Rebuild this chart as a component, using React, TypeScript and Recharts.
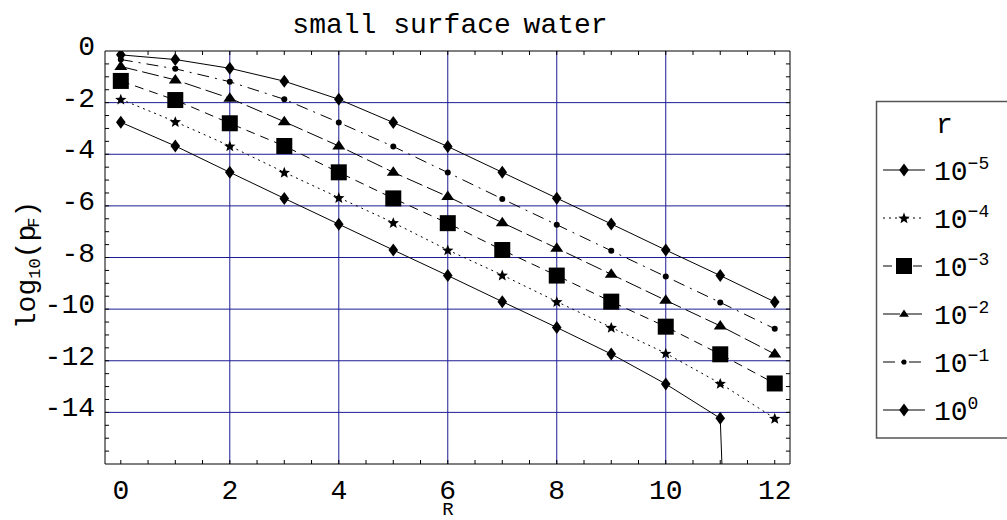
import { LineChart, Line, XAxis, YAxis, ReferenceLine } from 'recharts';

const W = 1007;
const H = 520;
const MONO = '"Liberation Mono", "DejaVu Sans Mono", monospace';
const GRID = '#1c1c94';

// R on the horizontal axis
const R = [0, 1, 2, 3, 4, 5, 6, 7, 8, 9, 10, 11, 12];

// log10(pF) per value of r
const logP_1e0 = [-0.15, -0.33, -0.67, -1.17, -1.87, -2.77, -3.7, -4.7, -5.7, -6.7, -7.71, -8.7, -9.72];
const logP_1em1 = [-0.33, -0.69, -1.19, -1.87, -2.77, -3.7, -4.71, -5.73, -6.73, -7.74, -8.74, -9.74, -10.76];
const logP_1em2 = [-0.6, -1.12, -1.83, -2.74, -3.68, -4.7, -5.64, -6.65, -7.64, -8.65, -9.66, -10.65, -11.74];
const logP_1em3 = [-1.16, -1.9, -2.8, -3.68, -4.7, -5.71, -6.67, -7.71, -8.7, -9.71, -10.68, -11.75, -12.88];
const logP_1em4 = [-1.87, -2.74, -3.68, -4.7, -5.68, -6.65, -7.71, -8.68, -9.71, -10.71, -11.71, -12.88, -14.23];
// last point falls far below the frame
const logP_1em5 = [-2.76, -3.68, -4.7, -5.71, -6.71, -7.71, -8.7, -9.71, -10.71, -11.74, -12.9, -14.23, -72];

const xTicks = [0, 2, 4, 6, 8, 10, 12];
const yTicks = [0, -2, -4, -6, -8, -10, -12, -14];
const xGrid = [2, 4, 6, 8, 10];
const yGrid = [-2, -4, -6, -8, -10, -12, -14];
const xDomain: [number, number] = [-0.29, 12.28];
const yDomain: [number, number] = [-16, 0];

// small inward frame ticks every half unit
const halfSteps = (from: number, to: number) =>
  Array.from({ length: Math.round((to - from) * 2) + 1 }, (_, i) => from + i / 2);
const xMinor = halfSteps(0, 12);
const yMinor = halfSteps(-15.5, -0.5);
const TICK_X = 0.075; // ~4px in R units
const TICK_Y = 0.155; // ~4px in log units

type Kind = 'diamond' | 'star' | 'square' | 'triangle' | 'dot';

const SERIES: { key: string; exp: string; values: number[]; marker: Kind; dash?: string }[] = [
  { key: 'e5', exp: '−5', values: logP_1em5, marker: 'diamond' },
  { key: 'e4', exp: '−4', values: logP_1em4, marker: 'star', dash: '2 4' },
  { key: 'e3', exp: '−3', values: logP_1em3, marker: 'square', dash: '9 6' },
  { key: 'e2', exp: '−2', values: logP_1em2, marker: 'triangle', dash: '17 5' },
  { key: 'e1', exp: '−1', values: logP_1em1, marker: 'dot', dash: '12 6 2 6' },
  { key: 'e0', exp: '0', values: logP_1e0, marker: 'diamond' },
];

const rows = R.map((r, i) => {
  const row: Record<string, number> = { R: r };
  SERIES.forEach((s) => (row[s.key] = s.values[i]));
  return row;
});

function starPoints(cx: number, cy: number, ro: number, ri: number) {
  const pts: string[] = [];
  for (let k = 0; k < 10; k++) {
    const a = -Math.PI / 2 + (k * Math.PI) / 5;
    const rad = k % 2 === 0 ? ro : ri;
    pts.push(`${cx + rad * Math.cos(a)},${cy + rad * Math.sin(a)}`);
  }
  return pts.join(' ');
}

function Marker({ kind, cx, cy, s = 1 }: { kind: Kind; cx: number; cy: number; s?: number }) {
  switch (kind) {
    case 'diamond':
      return (
        <polygon
          points={`${cx},${cy - 6.5 * s} ${cx + 4.8 * s},${cy} ${cx},${cy + 6.5 * s} ${cx - 4.8 * s},${cy}`}
          fill="#000"
        />
      );
    case 'square':
      return <rect x={cx - 8 * s} y={cy - 8 * s} width={16 * s} height={16 * s} fill="#000" />;
    case 'triangle':
      return (
        <polygon
          points={`${cx},${cy - 6 * s} ${cx + 6.5 * s},${cy + 3.5 * s} ${cx - 6.5 * s},${cy + 3.5 * s}`}
          fill="#000"
        />
      );
    case 'dot':
      return <circle cx={cx} cy={cy} r={3 * s} fill="#000" />;
    case 'star':
      return <polygon points={starPoints(cx, cy + 0.5, 6 * s, 2.6 * s)} fill="#000" />;
  }
}

const XTick = ({ x, y, payload }: any) => (
  <text x={x} y={y} dy={35} textAnchor="middle" fontFamily={MONO} fontSize={28} fill="#000">
    {payload.value}
  </text>
);

const YTick = ({ x, y, payload }: any) => (
  <text x={x} y={y} dy={4} textAnchor="end" fontFamily={MONO} fontSize={28} fill="#000">
    {payload.value}
  </text>
);

export default function App() {
  const [x0, x1] = xDomain;
  const [y0, y1] = yDomain;
  return (
    <div style={{ position: 'absolute', left: 0, top: 0, width: W, height: H, background: '#fff' }}>
      <LineChart width={W} height={H} data={rows} margin={{ top: 51, right: 217, bottom: 0, left: 0 }}>
        <XAxis
          dataKey="R"
          type="number"
          domain={xDomain}
          allowDataOverflow
          ticks={xTicks}
          interval={0}
          height={56}
          tickSize={0}
          tickMargin={0}
          tickLine={false}
          axisLine={{ stroke: '#000' }}
          tick={XTick}
        />
        <YAxis
          type="number"
          domain={yDomain}
          allowDataOverflow
          ticks={yTicks}
          interval={0}
          width={105}
          tickSize={0}
          tickMargin={10}
          tickLine={false}
          axisLine={{ stroke: '#000' }}
          tick={YTick}
        />

        {xGrid.map((v) => (
          <ReferenceLine key={`gx${v}`} x={v} stroke={GRID} strokeWidth={1} />
        ))}
        {yGrid.map((v) => (
          <ReferenceLine key={`gy${v}`} y={v} stroke={GRID} strokeWidth={1} />
        ))}

        {/* top and right edges of the frame */}
        <ReferenceLine y={y1} stroke="#000" strokeWidth={1} />
        <ReferenceLine x={x1} stroke="#000" strokeWidth={1} />

        {/* inward ticks on all four sides */}
        {xMinor.map((v) => (
          <ReferenceLine key={`tb${v}`} segment={[{ x: v, y: y0 }, { x: v, y: y0 + TICK_Y }]} stroke="#000" ifOverflow="visible" />
        ))}
        {xMinor.map((v) => (
          <ReferenceLine key={`tt${v}`} segment={[{ x: v, y: y1 }, { x: v, y: y1 - TICK_Y }]} stroke="#000" ifOverflow="visible" />
        ))}
        {yMinor.map((v) => (
          <ReferenceLine key={`tl${v}`} segment={[{ x: x0, y: v }, { x: x0 + TICK_X, y: v }]} stroke="#000" ifOverflow="visible" />
        ))}
        {yMinor.map((v) => (
          <ReferenceLine key={`tr${v}`} segment={[{ x: x1, y: v }, { x: x1 - TICK_X, y: v }]} stroke="#000" ifOverflow="visible" />
        ))}

        {SERIES.map((s) => (
          <Line
            key={s.key}
            dataKey={s.key}
            stroke="#000"
            strokeWidth={1}
            strokeDasharray={s.dash}
            isAnimationActive={false}
            activeDot={false}
            dot={(p: any) => (
              <g key={`${s.key}-${p.index}`}>
                <Marker kind={s.marker} cx={p.cx} cy={p.cy} />
              </g>
            )}
          />
        ))}
      </LineChart>

      <svg width={W} height={H} style={{ position: 'absolute', left: 0, top: 0, pointerEvents: 'none' }}>
        <text x={450} y={33} textAnchor="middle" fontFamily={MONO} fontSize={28} fill="#000">
          small surface<tspan dx={-4}> water</tspan>
        </text>
        <text transform="translate(35,265) rotate(-90)" textAnchor="middle" fontFamily={MONO} fontSize={28} fill="#000">
          log<tspan fontSize={17} dy={5}>10</tspan>
          <tspan dy={-5}>(p</tspan>
          <tspan fontSize={17} dy={4} dx={-3}>F</tspan>
          <tspan dy={-4}>)</tspan>
        </text>
        <text x={448} y={515} textAnchor="middle" fontFamily={MONO} fontSize={19} fill="#000">
          R
        </text>

        <rect x={876.5} y={101.5} width={160} height={336.5} fill="none" stroke="#555" strokeWidth={1.5} />
        <text x={936} y={133} fontFamily={MONO} fontSize={28} fill="#000">
          r
        </text>
        {SERIES.map((s, i) => {
          const cy = 170 + i * 48;
          return (
            <g key={`lg-${s.key}`}>
              <line x1={883} x2={925} y1={cy} y2={cy} stroke="#000" strokeWidth={1} strokeDasharray={s.dash} />
              <Marker kind={s.marker} cx={904} cy={cy} s={s.marker === 'triangle' ? 0.75 : s.marker === 'dot' ? 0.85 : 1} />
              <text x={934} y={cy + 10} fontFamily={MONO} fontSize={28} fill="#000">
                10
                <tspan fontSize={18} dy={-11}>
                  {s.exp}
                </tspan>
              </text>
            </g>
          );
        })}
      </svg>
    </div>
  );
}
